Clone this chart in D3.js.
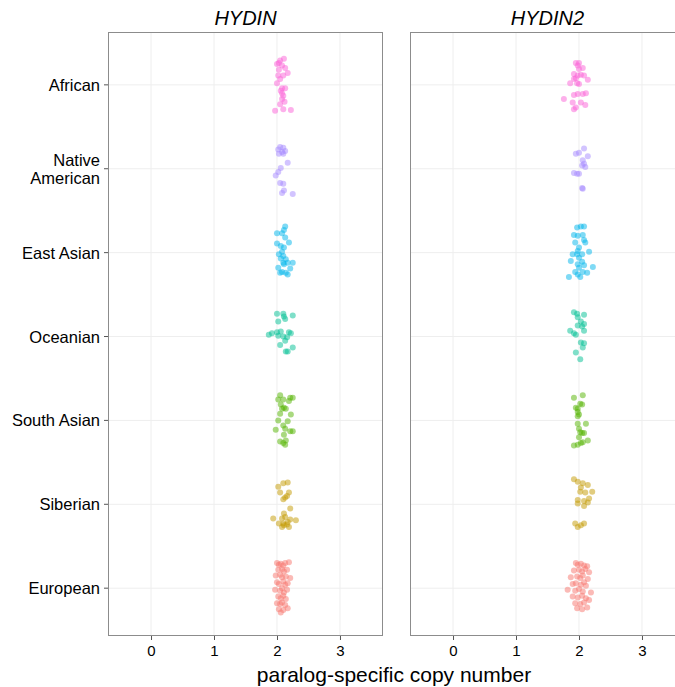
<!DOCTYPE html>
<html>
<head>
<meta charset="utf-8">
<script src="https://cdn.jsdelivr.net/npm/d3@7"></script>
<style>
  body { margin: 0; background: #fff; }
  svg { font-family: "Liberation Sans", Arial, Helvetica, sans-serif; }
</style>
</head>
<body>
<div id="container"></div>
<script>
let w = 675;
let h = 687;

// categories, top to bottom
let groups = ["African", "Native American", "East Asian", "Oceanian", "South Asian", "Siberian", "European"];
let genes = ["HYDIN", "HYDIN2"];
let xTicks = [0, 1, 2, 3];
let colors = ["#FB61D7", "#A58AFF", "#00B6EB", "#00C094", "#53B400", "#C49A00", "#F8766D"];

// copy number (jittered) and vertical jitter
let hydinX = [
  [2.05,2.03,2.08,2.00,2.13,2.17,2.10,2.02,2.05,2.00,2.13,2.08,2.08,2.10,2.08,2.05,1.97,2.10,2.22,2.03,2.11,2.06,2.12],
  [2.05,2.10,2.02,2.08,2.13,2.03,2.10,2.17,2.06,2.02,1.98,2.05,2.10,2.11,2.08,2.25],
  [2.13,2.11,2.00,2.08,2.13,2.19,2.00,2.06,2.11,2.08,2.03,2.10,2.06,2.14,2.10,2.17,2.25,2.11,2.02,2.21,2.08,2.14,2.17,2.05],
  [2.00,2.10,2.11,2.25,2.02,2.13,1.92,2.00,2.06,2.19,2.02,2.10,2.16,2.22,2.13,2.05,2.25,2.14,2.17,1.87],
  [2.05,2.21,2.25,2.02,2.10,2.19,2.06,2.11,2.08,2.14,2.05,2.22,2.02,2.17,2.10,1.98,2.13,2.21,2.25,2.11,2.05,2.14,2.10,2.13],
  [2.02,2.10,2.17,2.05,2.19,2.16,2.10,2.13,2.21,1.94,2.11,2.08,2.13,2.21,2.30,2.03,2.10,2.16,2.17,2.08,2.19,2.11],
  [2.00,2.03,2.06,2.10,2.13,2.19,2.02,2.08,2.11,2.16,1.98,2.05,2.08,2.14,2.21,2.00,2.03,2.10,2.13,2.17,1.97,2.05,2.08,2.11,2.16,2.02,2.06,2.10,2.14,2.00,2.05,2.08,2.13,2.03,2.10,2.17,2.06]
];
let hydinY = [
  [-0.29,-0.26,-0.23,-0.25,-0.20,-0.14,-0.11,-0.11,-0.07,-0.02,0.04,0.04,0.10,0.13,0.17,0.23,0.31,0.29,0.30,-0.18,-0.31,0.07,0.20],
  [-0.26,-0.25,-0.23,-0.20,-0.21,-0.18,-0.18,-0.07,-0.01,0.04,0.08,0.17,0.18,0.26,0.29,0.30],
  [-0.31,-0.27,-0.23,-0.23,-0.18,-0.12,-0.11,-0.08,-0.06,-0.01,0.02,0.04,0.07,0.08,0.12,0.12,0.12,0.14,0.18,0.19,0.23,0.24,0.26,0.24],
  [-0.27,-0.27,-0.24,-0.25,-0.18,-0.21,-0.04,-0.05,-0.06,-0.05,-0.01,0.00,0.01,-0.04,0.05,0.10,0.13,0.18,0.18,-0.02],
  [-0.30,-0.27,-0.27,-0.25,-0.25,-0.23,-0.19,-0.15,-0.14,-0.14,-0.08,-0.07,0.00,0.01,0.06,0.11,0.10,0.13,0.13,0.17,0.25,0.24,0.27,0.29],
  [-0.21,-0.25,-0.26,-0.14,-0.14,-0.10,-0.06,-0.08,0.05,0.17,0.11,0.17,0.15,0.18,0.19,0.23,0.23,0.24,0.21,0.27,0.27,0.25],
  [-0.30,-0.28,-0.29,-0.27,-0.30,-0.31,-0.22,-0.23,-0.20,-0.22,-0.15,-0.16,-0.13,-0.14,-0.12,-0.07,-0.05,-0.08,-0.04,-0.06,0.02,0.03,0.00,0.05,0.02,0.10,0.12,0.09,0.13,0.18,0.19,0.17,0.20,0.25,0.26,0.24,0.29]
];
let hydin2X = [
  [1.95,2.00,1.98,2.06,2.00,1.92,1.98,2.03,2.08,1.95,1.92,2.14,1.86,1.97,2.00,2.11,1.98,1.92,2.06,1.76,1.90,2.03,2.10,1.92,1.95],
  [1.95,2.00,2.08,2.14,2.06,2.08,2.10,2.05,1.92,1.97,2.00,2.05,2.06],
  [1.97,2.03,2.08,1.92,2.06,1.98,2.08,2.10,1.94,2.00,1.98,2.16,1.90,1.97,2.05,2.00,1.87,2.05,1.98,2.08,2.00,2.22,1.94,2.06,2.13,1.98,1.84,2.02],
  [1.92,1.97,2.08,1.98,2.03,2.08,1.98,2.05,1.86,1.92,1.95,2.08,2.03,2.08,2.06,1.95,2.02],
  [1.92,2.06,2.02,2.05,1.95,1.98,1.98,2.00,1.98,1.98,2.11,2.00,2.02,2.05,2.08,2.00,2.14,2.06,1.92,1.98,2.03],
  [1.92,1.98,2.06,2.14,2.03,2.10,2.02,2.21,2.16,1.98,2.08,2.14,1.98,2.08,1.94,2.08,2.03,1.98],
  [1.95,1.98,2.03,2.08,2.13,1.92,2.00,2.05,2.10,2.16,1.87,1.97,2.02,2.06,2.14,1.90,1.95,2.03,2.08,2.11,1.82,1.94,2.00,2.06,2.19,1.90,1.98,2.05,2.11,2.16,1.94,2.02,2.08,1.97,2.05,2.13]
];
let hydin2Y = [
  [-0.26,-0.26,-0.23,-0.20,-0.19,-0.13,-0.11,-0.12,-0.11,-0.08,-0.07,-0.06,-0.02,-0.02,-0.01,0.10,0.11,0.12,0.11,0.17,0.21,0.21,0.24,0.29,0.27],
  [-0.18,-0.19,-0.24,-0.15,-0.10,-0.06,-0.02,-0.04,0.05,0.06,0.06,0.23,0.24],
  [-0.30,-0.31,-0.31,-0.21,-0.21,-0.20,-0.15,-0.12,-0.12,-0.06,-0.02,-0.01,0.02,0.02,0.02,0.06,0.10,0.11,0.14,0.15,0.18,0.17,0.23,0.23,0.24,0.26,0.29,0.29],
  [-0.29,-0.27,-0.26,-0.23,-0.18,-0.15,-0.13,-0.12,-0.07,-0.04,-0.02,-0.07,0.07,0.08,0.13,0.19,0.27],
  [-0.27,-0.30,-0.20,-0.19,-0.15,-0.14,-0.10,-0.07,-0.05,0.04,0.04,0.10,0.14,0.15,0.15,0.20,0.24,0.26,0.30,0.29,0.27],
  [-0.30,-0.27,-0.25,-0.23,-0.20,-0.14,-0.15,-0.15,-0.07,-0.05,-0.04,-0.02,-0.01,0.02,0.23,0.23,0.25,0.27],
  [-0.30,-0.28,-0.29,-0.27,-0.26,-0.21,-0.22,-0.20,-0.23,-0.19,-0.13,-0.14,-0.12,-0.15,-0.11,-0.05,-0.06,-0.04,-0.07,-0.03,0.02,0.03,0.01,0.04,0.05,0.10,0.11,0.09,0.12,0.14,0.18,0.19,0.17,0.24,0.25,0.23]
];

let seriesX = [hydinX, hydin2X];
let seriesY = [hydinY, hydin2Y];

// layout
let plotTop = 32, plotBottom = 636;
let panelW = 275;
let panelLeft = [108, 410];

let viz = d3.select("#container").append("svg")
    .attr("width", w)
    .attr("height", h);

let yScale = d3.scaleLinear()
    .domain([-0.63, groups.length - 1 + 0.57])
    .range([plotTop, plotBottom]);

genes.forEach((gene, gi) => {
    let x0 = panelLeft[gi];
    let xScale = d3.scaleLinear()
        .domain([-0.683, 3.683])
        .range([x0, x0 + panelW]);

    let clipId = "clip" + gi;
    viz.append("clipPath").attr("id", clipId)
        .append("rect")
        .attr("x", x0).attr("y", plotTop)
        .attr("width", panelW).attr("height", plotBottom - plotTop);

    let panel = viz.append("g").attr("clip-path", "url(#" + clipId + ")");

    // grid
    panel.selectAll(".gridx").data(xTicks).enter()
        .append("line")
        .attr("x1", d => xScale(d)).attr("x2", d => xScale(d))
        .attr("y1", plotTop).attr("y2", plotBottom)
        .attr("stroke", "#eeeeee").attr("stroke-width", 1);
    panel.selectAll(".gridy").data(groups).enter()
        .append("line")
        .attr("y1", (d, i) => yScale(i)).attr("y2", (d, i) => yScale(i))
        .attr("x1", x0).attr("x2", x0 + panelW)
        .attr("stroke", "#eeeeee").attr("stroke-width", 1);

    // points
    groups.forEach((g, ci) => {
        let pts = seriesX[gi][ci].map((v, k) => ({x: v, y: ci + seriesY[gi][ci][k]}));
        panel.selectAll(".pt" + ci).data(pts).enter()
            .append("circle")
            .attr("cx", d => xScale(d.x))
            .attr("cy", d => yScale(d.y))
            .attr("r", 3)
            .attr("fill", colors[ci])
            .attr("fill-opacity", 0.5);
    });

    // border
    viz.append("rect")
        .attr("x", x0 + 0.5).attr("y", plotTop + 0.5)
        .attr("width", panelW - 1).attr("height", plotBottom - plotTop - 1)
        .attr("fill", "none")
        .attr("stroke", "#8c8c8c").attr("stroke-width", 1);

    // x axis
    let xAxis = viz.append("g")
        .attr("transform", "translate(0," + plotBottom + ")")
        .call(d3.axisBottom(xScale).tickValues(xTicks).tickFormat(d3.format("d")).tickSize(4).tickPadding(5));
    xAxis.select(".domain").remove();
    xAxis.selectAll("line").attr("stroke", "#555");
    xAxis.selectAll("text").attr("font-size", 15).attr("fill", "#000")
        .attr("font-family", "Liberation Sans, Arial, sans-serif");

    // strip
    viz.append("text")
        .attr("x", x0 + panelW / 2)
        .attr("y", 25)
        .attr("text-anchor", "middle")
        .attr("font-size", 20)
        .attr("font-style", "italic")
        .attr("fill", "#000")
        .text(gene);

    // y axis only on first panel
    if (gi === 0) {
        let yAxis = viz.append("g").attr("transform", "translate(" + x0 + ",0)");
        yAxis.selectAll(".tk").data(groups).enter()
            .append("line")
            .attr("x1", -4).attr("x2", 0)
            .attr("y1", (d, i) => yScale(i)).attr("y2", (d, i) => yScale(i))
            .attr("stroke", "#555");
        groups.forEach((g, i) => {
            let lines = g === "Native American" ? ["Native", "American"] : [g];
            let t = yAxis.append("text")
                .attr("text-anchor", "end")
                .attr("font-size", 16.5)
                .attr("fill", "#000");
            lines.forEach((ln, li) => {
                t.append("tspan")
                    .attr("x", -8)
                    .attr("y", yScale(i) + 6 + (li - (lines.length - 1) / 2) * 18)
                    .text(ln);
            });
        });
    }
});

// x axis title
viz.append("text")
    .attr("x", 394)
    .attr("y", 682)
    .attr("text-anchor", "middle")
    .attr("font-size", 21)
    .attr("fill", "#000")
    .text("paralog-specific copy number");
</script>
</body>
</html>
